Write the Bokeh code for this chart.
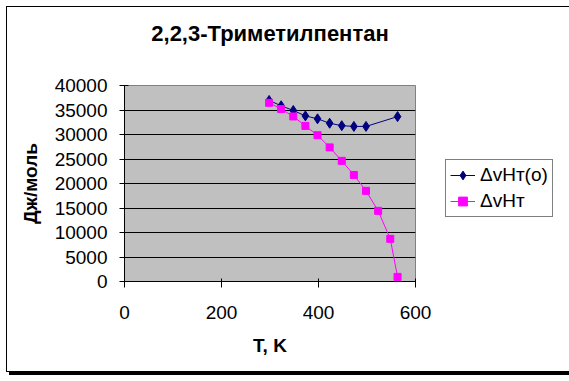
import math
from bokeh.plotting import figure
from bokeh.models import Legend, LegendItem, FixedTicker, LinearAxis
from bokeh.embed import file_html
from bokeh.resources import INLINE

# Data
T_o = [298.15, 323, 348, 373, 398, 423, 448, 473, 498, 563]
H_o = [36950, 35860, 34900, 33800, 33200, 32300, 31800, 31650, 31650, 33650]

T_v = [298.15, 323, 348, 373, 398, 423, 448, 473, 498, 523, 548, 563]
H_v = [36470, 35190, 33680, 31750, 29850, 27370, 24620, 21740, 18500, 14420, 8700, 940]

x_ticks = [0, 200, 400, 600]
y_ticks = [0, 5000, 10000, 15000, 20000, 25000, 30000, 35000, 40000]

title_text = "2,2,3-Триметилпентан"
x_label = "T, K"
y_label = "Дж/моль"
label_o = "ΔvHт(o)"
label_v = "ΔvHт"

FONT = "Liberation Sans"

p = figure(
    frame_width=291, frame_height=196,
    min_border_left=117, min_border_right=143,
    min_border_top=78, min_border_bottom=90,
    x_range=(0, 600), y_range=(0, 40000),
    output_backend="svg", toolbar_location=None,
    background_fill_color="#C0C0C0", border_fill_color="white",
    outline_line_color="#808080", outline_line_width=1,
)
p.styles = {"border": "1px solid black", "box-shadow": "3px 3px 0px #000000",
            "margin-left": "6px", "margin-top": "6px"}

xax = p.below[0]
yax = p.left[0]

p.title = None

# Chart title drawn as the label of a bare axis above the frame
# (bounds shift its centre to the middle of the whole chart area)
title_axis = LinearAxis(ticker=FixedTicker(ticks=[]), axis_line_color=None,
                        major_tick_line_color=None, minor_tick_line_color=None,
                        major_tick_out=0, major_tick_in=0, minor_tick_out=0,
                        major_label_standoff=0, bounds=(48, 600),
                        axis_label=title_text, axis_label_standoff=40,
                        axis_label_text_font=FONT, axis_label_text_font_size="22px",
                        axis_label_text_font_style="bold",
                        axis_label_text_color="black")
p.add_layout(title_axis, "above")

# Grid
p.xgrid.visible = False
p.ygrid.grid_line_color = "black"
p.ygrid.grid_line_width = 1
p.ygrid.ticker = FixedTicker(ticks=y_ticks)

# Axes
for ax in (xax, yax):
    ax.axis_line_color = "black"
    ax.major_tick_line_color = "black"
    ax.minor_tick_line_color = None
    ax.major_label_text_font = FONT
    ax.major_label_text_font_size = "19px"
    ax.major_label_text_color = "black"
    ax.axis_label_text_font = FONT
    ax.axis_label_text_font_size = "19px"
    ax.axis_label_text_font_style = "bold"
    ax.axis_label_text_color = "black"

xax.ticker = FixedTicker(ticks=x_ticks)
yax.ticker = FixedTicker(ticks=y_ticks)
xax.major_tick_in = 3
xax.major_tick_out = 6
xax.major_label_standoff = 18
xax.axis_label = x_label
xax.axis_label_standoff = 13

yax.major_tick_in = 4
yax.major_tick_out = 5
yax.major_label_standoff = 12
yax.axis_label = y_label
yax.axis_label_standoff = 11

# Series
l1 = p.line(T_o, H_o, line_color="#000080", line_width=1)
m1 = p.scatter(T_o, H_o, marker="diamond", size=10,
               fill_color="#000080", line_color="#000080")
l2 = p.line(T_v, H_v, line_color="#FF00FF", line_width=1)
m2 = p.scatter(T_v, H_v, marker="square", size=7,
               fill_color="#FF00FF", line_color="#FF00FF")

legend = Legend(
    items=[LegendItem(label=label_o, renderers=[l1, m1]),
           LegendItem(label=label_v, renderers=[l2, m2])],
    location=(30, 64),
    label_text_font=FONT, label_text_font_size="19px", label_text_color="black",
    border_line_color="black", border_line_width=1,
    background_fill_color="white", background_fill_alpha=1,
    padding=4, spacing=4, margin=0,
    glyph_width=25, glyph_height=22, label_height=22, label_standoff=5,
)
p.add_layout(legend, "right")

open("out.html", "w").write(file_html(p, INLINE))
